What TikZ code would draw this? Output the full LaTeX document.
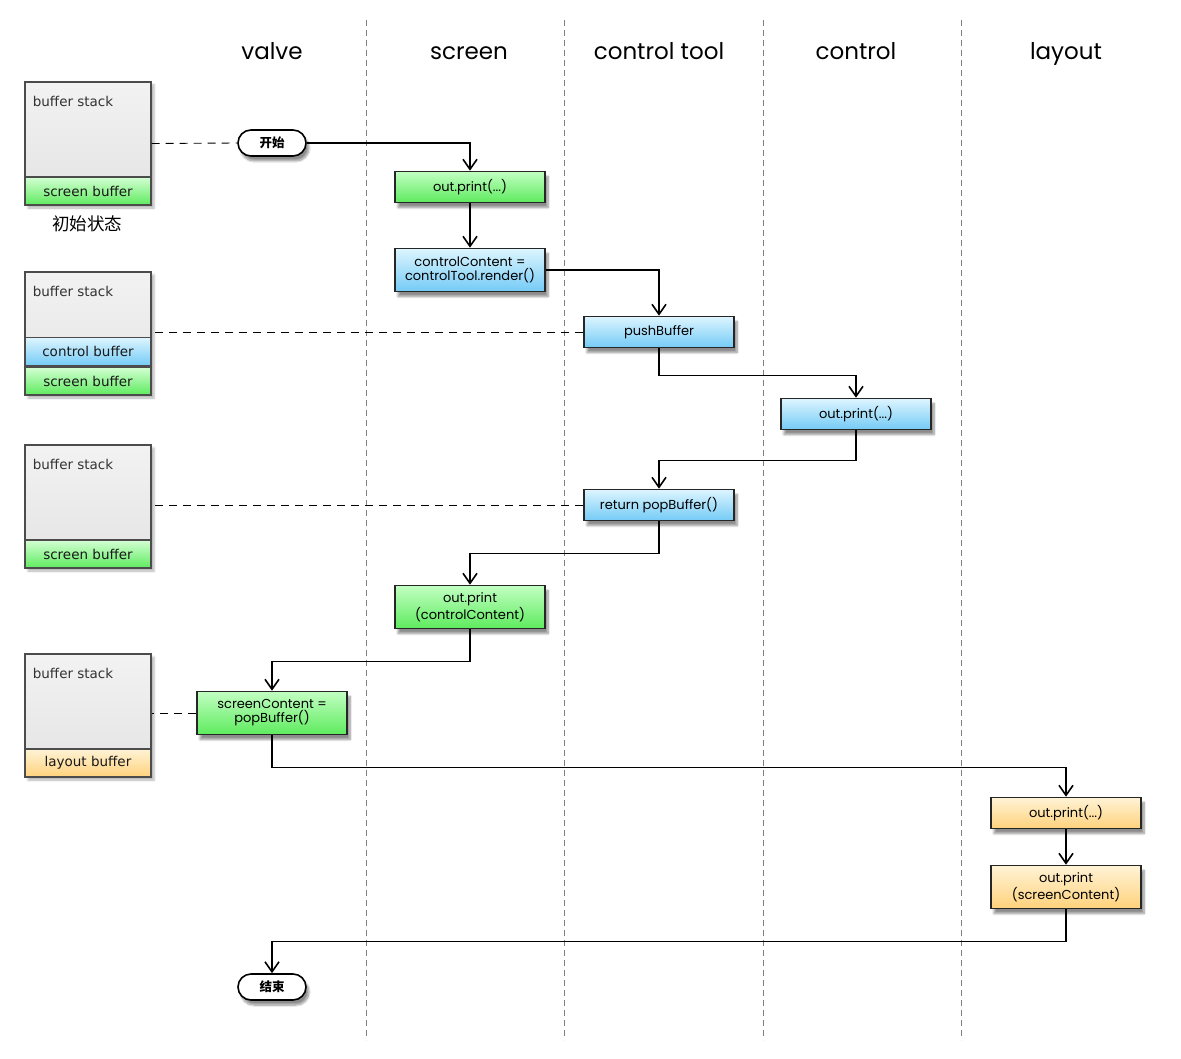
\documentclass[tikz,border=0pt]{standalone}
\usepackage{fontspec}
\setmainfont{Poppins}
\newfontfamily\stackfont{DejaVu Sans}
\newfontfamily\cjkfont{Noto Sans CJK SC}
\usetikzlibrary{arrows.meta,shadows.blur}

\definecolor{greentop}{HTML}{C2FFC2}
\definecolor{greenbot}{HTML}{5EEB5E}
\definecolor{bluetop}{HTML}{DDF5FF}
\definecolor{bluebot}{HTML}{74CBF6}
\definecolor{orangetop}{HTML}{FFF3D6}
\definecolor{orangebot}{HTML}{FFD27C}

\tikzset{
  lane/.style={dashed, gray, line width=0.8pt, dash pattern=on 6pt off 4pt},
  header/.style={anchor=base, font=\fontsize{23}{26}\selectfont},
  action/.style={draw=black!85, line width=1.6pt, minimum width=150pt,
    minimum height=31pt, align=center, inner sep=2pt,
    font=\fontsize{13}{14}\selectfont,
    blur shadow={shadow xshift=3pt, shadow yshift=-5pt, shadow blur steps=8, shadow opacity=45}},
  greenbox/.style={action, top color=greentop, bottom color=greenbot},
  bluebox/.style={action, top color=bluetop, bottom color=bluebot},
  orangebox/.style={action, top color=orangetop, bottom color=orangebot},
  pill/.style={draw, line width=1.6pt, rounded corners=13pt, fill=white,
    minimum width=68pt, minimum height=26pt,
    font=\cjkfont\bfseries\fontsize{12.5}{12}\selectfont,
    blur shadow={shadow xshift=3pt, shadow yshift=-5pt, shadow blur steps=8, shadow opacity=45}},
  stack/.style={draw=black!70, line width=1.4pt, minimum width=126pt, minimum height=123pt,
    top color=white!95!black, bottom color=white!89!black,
    blur shadow={shadow xshift=3pt, shadow yshift=-3pt, shadow blur steps=4, shadow opacity=30}},
  stacklabel/.style={anchor=north west, text=black!80, font=\stackfont\fontsize{13.5}{13.5}\selectfont},
  band/.style={draw=black!70, line width=1.4pt, minimum width=126pt, minimum height=28pt,
    anchor=south, inner sep=0pt, text=black!90, font=\stackfont\fontsize{13.5}{13.5}\selectfont},
  flow/.style={line width=1.6pt, -{Straight Barb[length=10pt, width=14pt, line width=1.6pt]}},
  link/.style={line width=0.9pt, dash pattern=on 8pt off 6pt}
}

\begin{document}
\begin{tikzpicture}[x=1pt, y=-1pt]
  \useasboundingbox (0,0) rectangle (1181,1059);

  % swim lanes
  \foreach \x in {366,564,763,961}
    \draw[lane] (\x,20) -- (\x,1040);
  \node[header] (hvalve) at (272,60) {valve};
  \node[header] (hscreen) at (469,60) {screen};
  \node[header] (htool) at (659,60) {control tool};
  \node[header] (hcontrol) at (856,60) {control};
  \node[header] (hlayout) at (1066,60) {layout};

  % buffer stacks
  \node[stack] (stackA) at (88,143.5) {};
  \node[stacklabel] at ([shift={(5,11)}]stackA.north west) {buffer stack};
  \node[band, top color=greentop!70!white, bottom color=greenbot] (bandA) at (stackA.south) {screen buffer};
  \node[font=\cjkfont\fontsize{17.5}{17.5}\selectfont] (caption) at (87,224) {初始状态};

  \node[stack] (stackB) at (88,333.5) {};
  \node[stacklabel] at ([shift={(5,11)}]stackB.north west) {buffer stack};
  \node[band, top color=greentop!70!white, bottom color=greenbot] (bandB) at (stackB.south) {screen buffer};
  \node[band, top color=bluetop, bottom color=bluebot] (bandB2) at (bandB.north) {control buffer};

  \node[stack] (stackC) at (88,506.5) {};
  \node[stacklabel] at ([shift={(5,11)}]stackC.north west) {buffer stack};
  \node[band, top color=greentop!70!white, bottom color=greenbot] (bandC) at (stackC.south) {screen buffer};

  \node[stack] (stackD) at (88,715.5) {};
  \node[stacklabel] at ([shift={(5,11)}]stackD.north west) {buffer stack};
  \node[band, top color=orangetop, bottom color=orangebot] (bandD) at (stackD.south) {layout buffer};

  % steps
  \node[pill] (start) at (272,143) {开始};
  \node[greenbox] (print1) at (470,187) {out.print(...)};
  \node[bluebox, minimum height=43pt] (render) at (470,270) {controlContent =\\controlTool.render()};
  \node[bluebox] (push) at (659,332) {pushBuffer};
  \node[bluebox] (print2) at (856,414) {out.print(...)};
  \node[bluebox] (pop) at (659,505) {return popBuffer()};
  \node[greenbox, minimum height=43pt] (print3) at (470,607) {out.print\\(controlContent)};
  \node[greenbox, minimum height=43pt] (popscreen) at (272,713) {screenContent =\\popBuffer()};
  \node[orangebox] (print4) at (1066,813) {out.print(...)};
  \node[orangebox, minimum height=43pt] (print5) at (1066,887) {out.print\\(screenContent)};
  \node[pill] (finish) at (272,987) {结束};

  % flow
  \draw[flow] (start.east) -| (print1.north);
  \draw[flow] (print1.south) -- (render.north);
  \draw[flow] (render.east) -| (push.north);
  \draw[flow] (push.south) -- ++(0,27) -| (print2.north);
  \draw[flow] (print2.south) -- ++(0,30) -| (pop.north);
  \draw[flow] (pop.south) -- ++(0,32) -| (print3.north);
  \draw[flow] (print3.south) -- ++(0,32) -| (popscreen.north);
  \draw[flow] (popscreen.south) -- ++(0,32) -| (print4.north);
  \draw[flow] (print4.south) -- (print5.north);
  \draw[flow] (print5.south) -- ++(0,32) -| (finish.north);

  % stack snapshots
  \draw[link] (stackA.east) -- (start.west);
  \draw[link] (push.west) -- (push.west -| stackB.east);
  \draw[link] (pop.west) -- (pop.west -| stackC.east);
  \draw[link] (popscreen.west) -- (popscreen.west -| stackD.east);
\end{tikzpicture}
\end{document}
